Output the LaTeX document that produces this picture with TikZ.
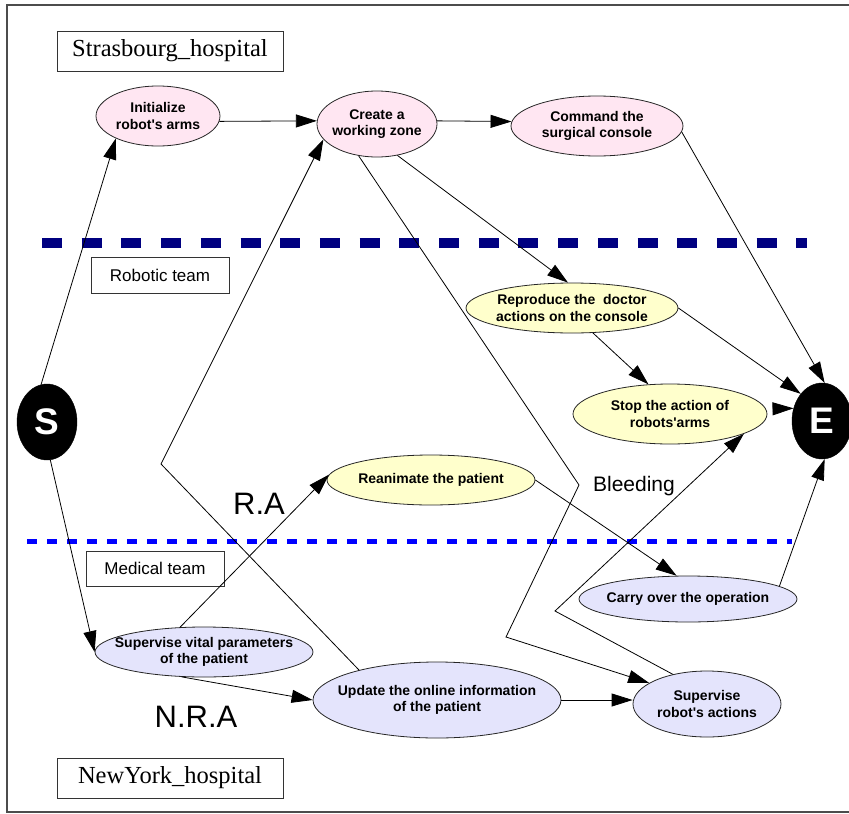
\documentclass[tikz,border=0pt]{standalone}
\usepackage{fontspec}
\setmainfont{Liberation Serif}
\setsansfont{Liberation Sans}[Ligatures=TeXOff]
\usetikzlibrary{arrows.meta,shapes.geometric}

\definecolor{strasfill}{RGB}{255,230,242}
\definecolor{robfill}{RGB}{255,255,204}
\definecolor{medfill}{RGB}{228,228,252}
\definecolor{navydash}{RGB}{0,0,128}
\definecolor{bluedash}{RGB}{0,0,255}

\begin{document}
\begin{tikzpicture}[x=1pt, y=-1pt,
		task/.style={ellipse, draw=black!85, line width=0.8pt, inner xsep=-40pt, inner ysep=-6pt, align=center, font=\sffamily\bfseries\fontsize{14}{16.5}\selectfont},
		term/.style={ellipse, fill=black, draw=black, minimum width=60pt, minimum height=76pt, inner sep=0pt, text=white, font=\sffamily\bfseries\fontsize{37}{40}\selectfont},
		teambox/.style={draw=black!80, line width=0.8pt, inner sep=0pt},
		flow/.style={line width=0.8pt, -{Triangle[length=21pt,width=13pt]}},
		tag/.style={font=\sffamily\fontsize{31}{34}\selectfont}]
			%%%%% START %%%%%
			
			\useasboundingbox (0,0) rectangle (849,814);
			\clip (0,0) rectangle (849,814);
			\draw[line width=1.2pt, color=black!70] (7,5) rectangle (870,812);
			
			\node[teambox, minimum width=226pt, minimum height=40pt, font=\fontsize{24.5}{28}\selectfont] (strasbox) at (170,51) {Strasbourg\_hospital};
			\node[teambox, minimum width=138pt, minimum height=36pt, font=\sffamily\fontsize{17}{20}\selectfont] (robbox) at (160,275) {Robotic team};
			\node[teambox, minimum width=138pt, minimum height=35pt, font=\sffamily\fontsize{17}{20}\selectfont] (medbox) at (155,568.5) {Medical team};
			\node[teambox, minimum width=226pt, minimum height=40pt, font=\fontsize{24.5}{28}\selectfont] (nybox) at (170,778) {NewYork\_hospital};
			
			\draw[line width=10pt, color=navydash, dash pattern=on 20pt off 19.7pt] (42,243) -- (807,243);
			\draw[line width=5pt, color=bluedash, dash pattern=on 10pt off 10pt] (27,541) -- (792,541);
			
			\node[term] (start) at (47,422) {S};
			\node[term] (finish) at (822,421) {E};
			
			\node[task, fill=strasfill, minimum width=124pt, minimum height=60pt] (init) at (158,116) {Initialize\\robot's arms};
			\node[task, fill=strasfill, minimum width=120pt, minimum height=66pt] (zone) at (377,124) {Create a\\working zone};
			\node[task, fill=strasfill, minimum width=172pt, minimum height=60pt] (console) at (597,126) {Command the\\surgical console};
			
			\node[task, fill=robfill, minimum width=212pt, minimum height=50pt] (reproduce) at (572,308) {Reproduce the\ \ doctor\\actions on the console};
			\node[task, fill=robfill, minimum width=194pt, minimum height=60pt] (stoparms) at (670,414) {Stop the action of\\robots'arms};
			\node[task, fill=robfill, minimum width=208pt, minimum height=50pt] (reanimate) at (431,480) {Reanimate the patient};
			
			\node[task, fill=medfill, minimum width=218pt, minimum height=46pt] (carry) at (688,599) {Carry over the operation};
			\node[task, fill=medfill, minimum width=218pt, minimum height=50pt] (vital) at (204,652) {Supervise vital parameters\\of the patient};
			\node[task, fill=medfill, minimum width=248pt, minimum height=76pt] (update) at (437,700) {Update the online information\\of the patient};
			\node[task, fill=medfill, minimum width=148pt, minimum height=66pt] (superrob) at (707,704) {Supervise\\robot's actions};
			
			\node[tag] (ra) at (259,504) {R.A};
			\node[tag] (nra) at (196,717) {N.R.A};
			\node[font=\sffamily\fontsize{21}{24}\selectfont] (bleed) at (634,486) {Bleeding};
			
			\coordinate (bendA) at (161,464);
			\coordinate (bendB) at (579,485);
			\coordinate (bendC) at (506,637);
			\coordinate (bendD) at (555,611);
			
			\draw[flow] (start.99) -- (init.208);
			\draw[flow] (init.-5) -- (zone.177);
			\draw[flow] (zone.3) -- (console.177);
			\draw[flow] (console.-4) -- (finish.86);
			\draw[flow] (zone.-57) -- (reproduce.99);
			\draw[flow] (reproduce.east) -- (finish.128);
			\draw[flow] (reproduce.-50) -- (stoparms.126);
			\draw[flow, shorten <=10pt] (stoparms.3) -- (finish.156);
			\draw[flow] (start.-85) -- (vital.west);
			\draw[flow] (vital.134) -- (reanimate.177);
			\draw[flow] (vital.228) -- (update.west);
			\draw[flow] (update.159) -- (bendA) -- (zone.196);
			\draw[flow] (zone.-120) -- (bendB) -- (bendC) -- (superrob.160);
			\draw[flow] (superrob.139) -- (bendD) -- (stoparms.-15);
			\draw[flow] (reanimate.east) -- (carry.116);
			\draw[flow] (carry.8) -- (finish.-86);
			\draw[flow] (update.east) -- (superrob.west |- update.east);
			
			%%%%% END %%%%%
\end{tikzpicture}
\end{document}
